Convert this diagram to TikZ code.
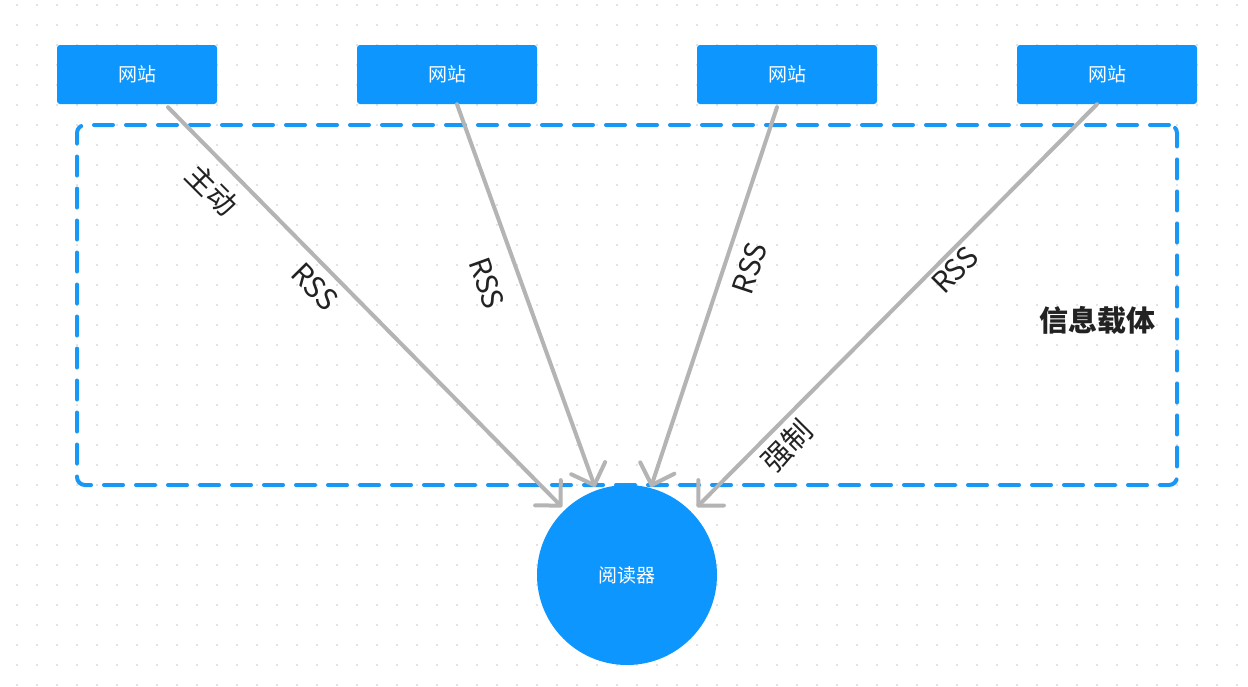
\documentclass[tikz,border=0pt]{standalone}
\usepackage{fontspec}
\setmainfont{Noto Sans CJK SC}
\usetikzlibrary{arrows.meta}
\definecolor{bluec}{RGB}{14,150,255}
\definecolor{framec}{RGB}{24,151,245}
\definecolor{arrc}{RGB}{180,180,180}
\definecolor{dotc}{RGB}{226,226,226}
\definecolor{txtc}{RGB}{34,34,34}
\tikzset{
  site/.style={fill=bluec, rounded corners=3pt, minimum width=180pt, minimum height=59pt, inner sep=0pt, text=white, font=\fontsize{19}{22}\selectfont},
  reader/.style={circle, fill=bluec, minimum size=180pt, inner sep=0pt, text=white, font=\fontsize{19}{22}\selectfont},
  frame/.style={draw=framec, line width=4pt, dash pattern=on 19pt off 13pt, line cap=round, rounded corners=8pt, minimum width=1100pt, minimum height=360pt, inner sep=0pt},
  arr/.style={draw=arrc, line width=4pt, line cap=round, line join=round, -{Straight Barb[length=18pt,width=36pt,line cap=round,line join=round]}},
  lbl/.style={text=txtc, font=\fontsize{29}{34}\selectfont, inner sep=0pt},
  title/.style={text=txtc, font=\bfseries\fontsize{29}{34}\selectfont, inner sep=0pt}
}
\begin{document}
\begin{tikzpicture}[x=1pt,y=-1pt]
\useasboundingbox (0,0) rectangle (1248,686);
\fill[white] (0,0) rectangle (1248,686);
\foreach \i in {0,...,61} {
  \foreach \j in {0,...,34} {
    \fill[dotc] (16+20*\i,4+20*\j) rectangle ++(2,2);
  }
}
\node[frame] (box) at (627,305) {};
\node[site, minimum width=160pt] (w1) at (137,74.5) {网站};
\node[site] (w2) at (447,74.5) {网站};
\node[site] (w3) at (787,74.5) {网站};
\node[site] (w4) at (1107,74.5) {网站};
\node[reader] (r) at (627,575) {阅读器};
\draw[arr] ([xshift=31pt,yshift=-3pt]w1.south) -- ([xshift=-65pt,yshift=68pt]r.center);
\draw[arr] ([xshift=10pt,yshift=0pt]w2.south) -- ([xshift=-32pt,yshift=88pt]r.center);
\draw[arr] ([xshift=-10pt,yshift=-3pt]w3.south) -- ([xshift=24pt,yshift=88pt]r.center);
\draw[arr] ([xshift=-10pt,yshift=0pt]w4.south) -- ([xshift=70pt,yshift=68pt]r.center);
\node[lbl, rotate=-45] (l1) at (212,190) {主动};
\node[lbl, rotate=-45.4] (l2) at (315,287) {RSS};
\node[lbl, rotate=-70.2] (l3) at (487,283) {RSS};
\node[lbl, rotate=71.7] (l4) at (750,268) {RSS};
\node[lbl, rotate=45.2] (l5) at (955,270) {RSS};
\node[lbl, rotate=45.2] (l6) at (787,446) {强制};
\node[title] (t) at (1097,320) {信息载体};
\end{tikzpicture}
\end{document}
